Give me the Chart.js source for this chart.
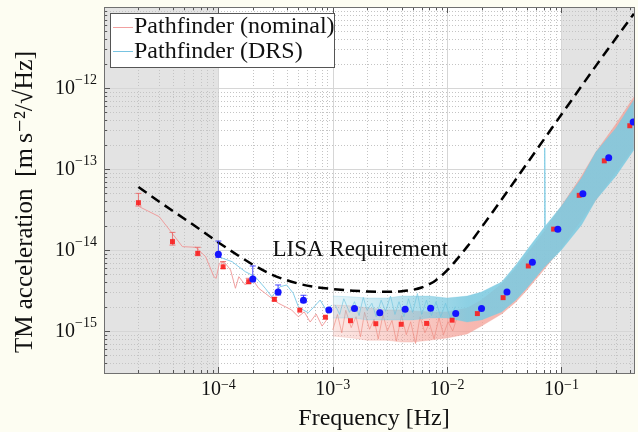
<!DOCTYPE html>
<html>
<head>
<meta charset="utf-8">
<script src="https://cdn.jsdelivr.net/npm/chart.js@4.4.1/dist/chart.umd.min.js"></script>
<style>
html,body{margin:0;padding:0;background:#fdfdf2;}
</style>
</head>
<body>
<canvas id="asdChart" width="638" height="432"></canvas>
<script>
// axis ranges
const xMin = 1e-5, xMax = 0.431;
const yMin = 3.03e-16, yMax = 1e-11;
const shadeRanges = [[1e-5, 1e-4], [0.1, 0.431]];

// LISA requirement (dashed curve)
const lisaFreq = [2e-5,3e-5,5e-5,7e-5,1e-4,1.5e-4,2e-4,3e-4,5e-4,7e-4,1e-3,1.5e-3,2e-3,3e-3,4e-3,5e-3,6e-3,7e-3,8e-3,1e-2,1.5e-2,2e-2,3e-2,5e-2,0.1,0.2,0.43];
const lisaAsd = [6.0e-14,4.0e-14,2.45e-14,1.77e-14,1.24e-14,8.5e-15,6.6e-15,4.9e-15,3.85e-15,3.5e-15,3.3e-15,3.15e-15,3.08e-15,3.05e-15,3.1e-15,3.22e-15,3.44e-15,3.78e-15,4.24e-15,5.6e-15,1.1e-14,1.9e-14,4.2e-14,1.17e-13,4.7e-13,1.875e-12,8.27e-12];

// binned points, nominal run (red)
const nomBinFreq = [2.0e-5,3.97e-5,6.6e-5,1.10e-4,1.84e-4,3.09e-4,5.15e-4,8.63e-4,1.43e-3,2.38e-3,3.97e-3,6.62e-3,1.107e-2,1.84e-2,3.09e-2,5.13e-2,8.54e-2,0.143,0.237,0.396];
const nomBinAsd = [3.84e-14,1.27e-14,9.1e-15,6.2e-15,4.06e-15,2.46e-15,1.81e-15,1.48e-15,1.34e-15,1.23e-15,1.21e-15,1.24e-15,1.36e-15,1.64e-15,2.58e-15,6.35e-15,1.81e-14,4.73e-14,1.26e-13,3.42e-13];
const nomBinHi = [5.0e-14,1.65e-14,1.08e-14,7.2e-15,4.47e-15,2.6e-15,null,null,null,null,null,null,null,null,null,null,null,null,null,null];
const nomBinLo = [3.49e-14,1.15e-14,8.5e-15,5.9e-15,3.84e-15,2.35e-15,null,null,null,null,null,null,null,null,null,null,null,null,null,null];

// binned points, DRS run (blue)
const drsBinFreq = [1.0e-4,2.0e-4,3.33e-4,5.55e-4,9.25e-4,1.55e-3,2.58e-3,4.3e-3,7.18e-3,1.19e-2,2.0e-2,3.34e-2,5.57e-2,9.3e-2,0.154,0.259,0.424];
const drsBinAsd = [8.85e-15,4.39e-15,3.03e-15,2.39e-15,1.82e-15,1.90e-15,1.68e-15,1.85e-15,1.91e-15,1.65e-15,1.90e-15,3.03e-15,7.07e-15,1.80e-14,4.96e-14,1.38e-13,3.80e-13];
const drsBinHi = [1.29e-14,6.35e-15,3.7e-15,2.76e-15,null,null,null,null,null,null,null,null,null,null,null,null,null];
const drsBinLo = [8.1e-15,4.06e-15,2.78e-15,2.24e-15,null,null,null,null,null,null,null,null,null,null,null,null,null];

// low-frequency traces
const nomTraceFreq = [2.04e-5,3.04e-5,3.85e-5,4.85e-5,6.34e-5,7.74e-5,9.14e-5,9.57e-5,1.02e-4,1.12e-4,1.28e-4,1.41e-4,1.51e-4,1.72e-4,1.96e-4,2.25e-4,2.57e-4,2.93e-4,3.35e-4,3.83e-4,4.37e-4,5.0e-4,5.64e-4,6.35e-4,7.16e-4,8.07e-4,9.1e-4];
const nomTraceAsd = [3.42e-14,2.58e-14,1.68e-14,1.10e-14,1.08e-14,8.27e-15,4.68e-15,4.47e-15,6.85e-15,7.17e-15,5.66e-15,3.37e-15,4.68e-15,3.70e-15,4.47e-15,3.37e-15,2.92e-15,2.53e-15,2.20e-15,2.0e-15,1.82e-15,1.50e-15,1.72e-15,1.29e-15,1.62e-15,1.15e-15,1.45e-15];
const drsTraceFreq = [9.96e-5,1.32e-4,1.72e-4,2.10e-4,2.57e-4,2.93e-4,3.47e-4,3.96e-4,4.52e-4,5.0e-4,5.52e-4,6.11e-4,6.98e-4,7.76e-4,8.75e-4,9.86e-4];
const drsTraceAsd = [8.27e-15,7.17e-15,5.40e-15,4.68e-15,3.37e-15,2.65e-15,3.52e-15,3.70e-15,2.92e-15,2.0e-15,1.82e-15,1.68e-15,2.04e-15,2.41e-15,1.82e-15,2.09e-15];

// mid-band scribble
const nomWiggleFreq = [1.0e-3,1.1e-3,1.2e-3,1.3e-3,1.45e-3,1.6e-3,1.75e-3,1.9e-3,2.1e-3,2.3e-3,2.5e-3,2.75e-3,3e-3,3.3e-3,3.6e-3,4e-3,4.4e-3,4.8e-3,5.3e-3,5.8e-3,6.4e-3,7e-3,7.7e-3,8.5e-3,9.3e-3,1.02e-2,1.12e-2,1.23e-2];
const nomWiggleAsd = [1.03e-15,1.6e-15,0.95e-15,1.8e-15,1.1e-15,1.5e-15,0.85e-15,1.7e-15,1.05e-15,1.4e-15,0.8e-15,1.6e-15,1.0e-15,1.35e-15,0.75e-15,1.55e-15,0.9e-15,1.3e-15,0.7e-15,1.5e-15,0.95e-15,1.25e-15,0.8e-15,1.45e-15,0.9e-15,1.3e-15,1.0e-15,1.5e-15];
const drsWiggleFreq = [1.05e-3,1.15e-3,1.25e-3,1.4e-3,1.55e-3,1.7e-3,1.85e-3,2e-3,2.2e-3,2.4e-3,2.65e-3,2.9e-3,3.2e-3,3.5e-3,3.8e-3,4.2e-3,4.6e-3,5e-3,5.5e-3,6e-3,6.6e-3,7.3e-3,8e-3,8.8e-3,9.7e-3,1.07e-2,1.18e-2];
const drsWiggleAsd = [2.1e-15,1.6e-15,2.5e-15,1.7e-15,2.3e-15,1.55e-15,2.6e-15,1.8e-15,2.2e-15,1.5e-15,2.4e-15,1.75e-15,2.7e-15,1.6e-15,2.3e-15,1.5e-15,2.5e-15,1.7e-15,2.9e-15,1.6e-15,2.4e-15,1.55e-15,2.3e-15,1.5e-15,2.2e-15,1.45e-15,2.0e-15];

// noise band envelopes
const bandFreq = [1e-3,1.5e-3,2e-3,3e-3,4e-3,5e-3,7e-3,1e-2,1.5e-2,2e-2,3e-2,4e-2,5e-2,7e-2,0.1,0.15,0.2,0.3,0.43];
const nomBandHi = [2.09e-15,2.04e-15,1.92e-15,1.82e-15,1.82e-15,1.77e-15,1.72e-15,1.72e-15,1.92e-15,2.41e-15,3.80e-15,6.0e-15,8.93e-15,1.67e-14,3.49e-14,8.2e-14,1.62e-13,3.60e-13,7.74e-13];
const nomBandLo = [8.7e-16,8.2e-16,7.7e-16,7.7e-16,7.3e-16,7.3e-16,7.7e-16,8.2e-16,9.2e-16,1.15e-15,1.62e-15,2.28e-15,3.21e-15,5.66e-15,1.06e-14,2.35e-14,4.14e-14,9.18e-14,1.82e-13];
const drsBandHi = [2.70e-15,2.63e-15,2.55e-15,2.55e-15,2.70e-15,2.70e-15,2.70e-15,2.55e-15,2.70e-15,3.03e-15,4.03e-15,6.53e-15,1.0e-14,1.87e-14,3.49e-14,7.74e-14,1.62e-13,3.21e-13,7.11e-13];
const drsBandLo = [1.45e-15,1.45e-15,1.37e-15,1.37e-15,1.37e-15,1.37e-15,1.45e-15,1.45e-15,1.29e-15,1.37e-15,1.72e-15,2.41e-15,3.40e-15,6.0e-15,1.0e-14,2.04e-14,4.14e-14,8.2e-14,1.72e-13];
const drsSpikeFreq = [0.0706,0.0714,0.0722];
const drsSpikeAsd = [1.9e-14,1.82e-13,1.9e-14];

const pts = (xs, ys) => xs.map((x, i) => ({x: x, y: ys[i]}));

const serif = '"Liberation Serif", "DejaVu Serif", serif';

function logTicks(min, max) {
  const out = [];
  for (let e = Math.floor(Math.log10(min)); e <= Math.ceil(Math.log10(max)); e++) {
    for (let k = 1; k <= 9; k++) {
      const v = k * Math.pow(10, e);
      if (v >= min * 0.999 && v <= max * 1.001) out.push({v: v, e: e, major: k === 1});
    }
  }
  return out;
}

// band fill fades out towards low frequency, where the spectrum is sparse
function bandFill(rgb, a0, a1) {
  return function(c) {
    const chart = c.chart, area = chart.chartArea;
    if (!area) return 'rgba(' + rgb + ',' + a1 + ')';
    const x = chart.scales.x;
    const g = chart.ctx.createLinearGradient(x.getPixelForValue(1e-3), 0, x.getPixelForValue(1.5e-2), 0);
    g.addColorStop(0, 'rgba(' + rgb + ',' + a0 + ')');
    g.addColorStop(1, 'rgba(' + rgb + ',' + a1 + ')');
    return g;
  };
}

const frame = {
  id: 'frame',
  beforeDraw(chart) {
    const {ctx, chartArea: a, scales: {x, y}} = chart;
    ctx.save();
    ctx.fillStyle = '#fdfdf2';
    ctx.fillRect(0, 0, chart.width, chart.height);
    ctx.fillStyle = '#ffffff';
    ctx.fillRect(a.left, a.top, a.right - a.left, a.bottom - a.top);
    ctx.fillStyle = '#e3e3e3';
    shadeRanges.forEach(r => {
      const x0 = x.getPixelForValue(r[0]), x1 = x.getPixelForValue(r[1]);
      ctx.fillRect(x0, a.top, x1 - x0, a.bottom - a.top);
    });
    // grid
    logTicks(xMin, xMax).forEach(t => {
      const px = Math.round(x.getPixelForValue(t.v)) + 0.5;
      ctx.beginPath();
      ctx.setLineDash(t.major ? [] : [1, 2]);
      ctx.strokeStyle = t.major ? '#d6d6d6' : '#c4c4c4';
      ctx.lineWidth = 1;
      ctx.moveTo(px, a.top); ctx.lineTo(px, a.bottom);
      ctx.stroke();
    });
    logTicks(yMin, yMax).forEach(t => {
      const py = Math.round(y.getPixelForValue(t.v)) + 0.5;
      ctx.beginPath();
      ctx.setLineDash(t.major ? [] : [1, 2]);
      ctx.strokeStyle = t.major ? '#d6d6d6' : '#c4c4c4';
      ctx.moveTo(a.left, py); ctx.lineTo(a.right, py);
      ctx.stroke();
    });
    ctx.restore();
  },
  beforeDatasetDraw(chart, args) {
    const ds = chart.data.datasets[args.index];
    if (!ds.errHi) return;
    const {ctx, scales: {x, y}} = chart;
    ctx.save();
    ctx.strokeStyle = ds.errColor;
    ctx.lineWidth = 1;
    ds.data.forEach((p, i) => {
      if (ds.errHi[i] == null) return;
      const px = x.getPixelForValue(p.x);
      const y0 = y.getPixelForValue(ds.errLo[i]), y1 = y.getPixelForValue(ds.errHi[i]);
      ctx.beginPath();
      ctx.moveTo(px, y0); ctx.lineTo(px, y1);
      ctx.moveTo(px - 3, y0); ctx.lineTo(px + 3, y0);
      ctx.moveTo(px - 3, y1); ctx.lineTo(px + 3, y1);
      ctx.stroke();
    });
    ctx.restore();
  },
  afterDraw(chart) {
    const {ctx, chartArea: a, scales: {x, y}} = chart;
    ctx.save();
    // ticks
    ctx.strokeStyle = '#555';
    ctx.lineWidth = 1;
    ctx.beginPath();
    logTicks(xMin, xMax).forEach(t => {
      const px = Math.round(x.getPixelForValue(t.v)) + 0.5, len = t.major ? 6 : 3;
      ctx.moveTo(px, a.bottom); ctx.lineTo(px, a.bottom - len);
      ctx.moveTo(px, a.top); ctx.lineTo(px, a.top + len);
    });
    logTicks(yMin, yMax).forEach(t => {
      const py = Math.round(y.getPixelForValue(t.v)) + 0.5, len = t.major ? 6 : 3;
      ctx.moveTo(a.left, py); ctx.lineTo(a.left + len, py);
    });
    ctx.stroke();
    ctx.strokeStyle = '#707070';
    ctx.strokeRect(a.left + 0.5, a.top + 0.5, a.right - a.left, a.bottom - a.top);

    // tick labels
    ctx.fillStyle = '#111';
    ctx.textBaseline = 'alphabetic';
    logTicks(xMin, xMax).filter(t => t.major && t.e > -5).forEach(t => {
      const px = x.getPixelForValue(t.v);
      ctx.font = '20px ' + serif;
      const w1 = ctx.measureText('10').width;
      ctx.font = '14px ' + serif;
      const exp = '\u2212' + Math.abs(t.e);
      const w2 = ctx.measureText(exp).width;
      const x0 = px - (w1 + w2) / 2;
      ctx.font = '20px ' + serif;
      ctx.textAlign = 'left';
      ctx.fillText('10', x0, 395);
      ctx.font = '14px ' + serif;
      ctx.fillText(exp, x0 + w1, 389);
    });
    logTicks(yMin, yMax).filter(t => t.major && t.e >= -15 && t.e <= -12).forEach(t => {
      const py = y.getPixelForValue(t.v);
      const exp = '\u2212' + Math.abs(t.e);
      ctx.font = '14px ' + serif;
      const w2 = ctx.measureText(exp).width;
      ctx.textAlign = 'left';
      ctx.fillText(exp, 97 - w2, py - 4);
      ctx.font = '20px ' + serif;
      ctx.textAlign = 'right';
      ctx.fillText('10', 97 - w2, py + 6);
    });

    // axis titles
    ctx.font = '24px ' + serif;
    ctx.textAlign = 'center';
    ctx.fillText('Frequency [Hz]', 374, 425);
    ctx.save();
    ctx.translate(32, 353);
    ctx.rotate(-Math.PI / 2);
    ctx.textAlign = 'left';
    ctx.font = '25px ' + serif;
    ctx.fillText('TM acceleration', 0, 0);
    ctx.font = '26px ' + serif;
    ctx.fillText('[m\u2009s\u207B\u00B2/\u221AHz]', 176, 0);
    ctx.restore();

    // annotation
    ctx.font = '23px ' + serif;
    ctx.textAlign = 'left';
    ctx.fillText('LISA Requirement', x.getPixelForValue(2.97e-4), y.getPixelForValue(8.4e-15));

    // legend
    ctx.fillStyle = '#ffffff';
    ctx.fillRect(110, 13, 225, 55);
    ctx.strokeStyle = '#555';
    ctx.strokeRect(110.5, 13.5, 224, 54);
    ctx.lineWidth = 1;
    ctx.strokeStyle = 'rgba(240,150,150,0.9)';
    ctx.beginPath(); ctx.moveTo(113, 27.5); ctx.lineTo(133, 27.5); ctx.stroke();
    ctx.strokeStyle = 'rgba(120,195,225,1)';
    ctx.beginPath(); ctx.moveTo(113, 51.5); ctx.lineTo(133, 51.5); ctx.stroke();
    ctx.fillStyle = '#111';
    ctx.font = '24px ' + serif;
    ctx.fillText('Pathfinder (nominal)', 134, 33);
    ctx.fillText('Pathfinder (DRS)', 134, 58);
    ctx.restore();
  }
};

new Chart(document.getElementById('asdChart'), {
  type: 'line',
  data: {
    datasets: [
      {
        label: 'DRS bins',
        data: pts(drsBinFreq, drsBinAsd),
        showLine: false,
        pointStyle: 'circle',
        pointRadius: 3.5,
        pointBackgroundColor: '#1414ff',
        pointBorderWidth: 0,
        errHi: drsBinHi, errLo: drsBinLo, errColor: 'rgba(40,40,255,0.85)'
      },
      {
        label: 'nominal bins',
        data: pts(nomBinFreq, nomBinAsd),
        showLine: false,
        pointStyle: 'rect',
        pointRadius: 3.5,
        pointBackgroundColor: 'rgba(250,30,30,0.9)',
        pointBorderWidth: 0,
        errHi: nomBinHi, errLo: nomBinLo, errColor: 'rgba(235,90,90,0.8)'
      },
      {
        label: 'LISA Requirement',
        data: pts(lisaFreq, lisaAsd),
        borderColor: '#000',
        borderWidth: 2.5,
        borderDash: [10, 6],
        pointRadius: 0,
        cubicInterpolationMode: 'monotone'
      },
      {
        label: 'DRS spike',
        data: pts(drsSpikeFreq, drsSpikeAsd),
        borderColor: 'rgba(130,205,230,0.9)',
        borderWidth: 1,
        pointRadius: 0
      },
      {
        label: 'DRS wiggle',
        data: pts(drsWiggleFreq, drsWiggleAsd),
        borderColor: 'rgba(110,195,222,0.8)',
        borderWidth: 0.8,
        pointRadius: 0
      },
      {
        label: 'DRS band hi',
        data: pts(bandFreq, drsBandHi),
        borderColor: 'rgba(120,200,225,0.3)',
        borderWidth: 1,
        backgroundColor: bandFill('125,202,224', 0.18, 0.88),
        fill: '+1',
        pointRadius: 0
      },
      {
        label: 'DRS band lo',
        data: pts(bandFreq, drsBandLo),
        borderColor: 'rgba(120,200,225,0.25)',
        borderWidth: 1,
        pointRadius: 0
      },
      {
        label: 'DRS trace',
        data: pts(drsTraceFreq, drsTraceAsd),
        borderColor: 'rgba(120,200,230,0.9)',
        borderWidth: 1,
        pointRadius: 0
      },
      {
        label: 'nominal wiggle',
        data: pts(nomWiggleFreq, nomWiggleAsd),
        borderColor: 'rgba(238,135,125,0.8)',
        borderWidth: 0.8,
        pointRadius: 0
      },
      {
        label: 'nominal band hi',
        data: pts(bandFreq, nomBandHi),
        borderColor: 'rgba(240,150,140,0.3)',
        borderWidth: 1,
        backgroundColor: bandFill('244,160,150', 0.25, 0.75),
        fill: '+1',
        pointRadius: 0
      },
      {
        label: 'nominal band lo',
        data: pts(bandFreq, nomBandLo),
        borderColor: 'rgba(240,150,140,0.25)',
        borderWidth: 1,
        pointRadius: 0
      },
      {
        label: 'nominal trace',
        data: pts(nomTraceFreq, nomTraceAsd),
        borderColor: 'rgba(240,150,150,0.9)',
        borderWidth: 1,
        pointRadius: 0
      }
    ]
  },
  options: {
    responsive: false,
    animation: false,
    layout: {padding: {left: 104, top: 7, right: 0, bottom: 59}},
    scales: {
      x: {type: 'logarithmic', min: xMin, max: xMax, display: false, bounds: 'data'},
      y: {type: 'logarithmic', min: yMin, max: yMax, display: false, bounds: 'data'}
    },
    plugins: {legend: {display: false}, tooltip: {enabled: false}}
  },
  plugins: [frame]
});
</script>
</body>
</html>
